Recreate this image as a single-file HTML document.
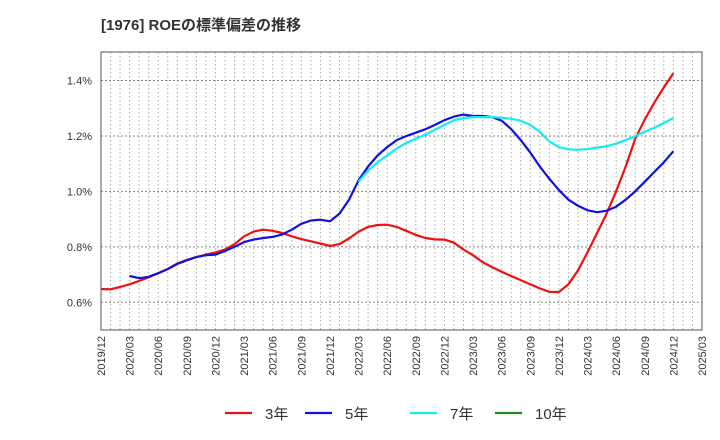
<!DOCTYPE html>
<html><head><meta charset="utf-8"><style>
body{margin:0;background:#fff;font-family:"Liberation Sans","Noto Sans CJK JP",sans-serif;}
svg{display:block}
</style></head><body>
<svg id="chart" width="720" height="440" xmlns="http://www.w3.org/2000/svg">
<text x="101" y="30" font-size="15" font-weight="bold" fill="#333" font-family="Liberation Sans, Noto Sans CJK JP, sans-serif">[1976]  ROEの標準偏差の推移</text>
<g id="grid"></g><g id="axes"></g><g id="series"></g><g id="legend"></g>
</svg>
<script>
const xLabels=["2019/12","2020/03","2020/06","2020/09","2020/12","2021/03","2021/06","2021/09","2021/12","2022/03","2022/06","2022/09","2022/12","2023/03","2023/06","2023/09","2023/12","2024/03","2024/06","2024/09","2024/12","2025/03"];
const yTicks=[0.6,0.8,1.0,1.2,1.4];
const s3=[0.648,0.647,0.655,0.665,0.677,0.69,0.705,0.72,0.74,0.753,0.763,0.772,0.78,0.79,0.81,0.838,0.855,0.862,0.858,0.85,0.838,0.828,0.82,0.812,0.803,0.81,0.83,0.855,0.872,0.879,0.88,0.872,0.858,0.843,0.832,0.827,0.826,0.815,0.79,0.77,0.745,0.727,0.71,0.695,0.68,0.665,0.65,0.638,0.637,0.665,0.715,0.78,0.85,0.92,1.0,1.09,1.19,1.26,1.32,1.375,1.427];
const s5=[null,null,null,0.695,0.687,0.692,0.705,0.72,0.738,0.752,0.763,0.77,0.772,0.785,0.8,0.817,0.826,0.832,0.836,0.845,0.862,0.883,0.895,0.898,0.892,0.92,0.97,1.04,1.09,1.13,1.16,1.185,1.2,1.212,1.224,1.24,1.257,1.27,1.277,1.272,1.272,1.268,1.255,1.225,1.185,1.14,1.09,1.045,1.005,0.97,0.948,0.932,0.925,0.93,0.945,0.97,1.0,1.035,1.07,1.105,1.145];
const s7=[null,null,null,null,null,null,null,null,null,null,null,null,null,null,null,null,null,null,null,null,null,null,null,null,null,null,null,1.035,1.075,1.105,1.13,1.155,1.175,1.19,1.205,1.222,1.24,1.257,1.265,1.268,1.268,1.268,1.266,1.262,1.255,1.24,1.215,1.18,1.16,1.152,1.15,1.153,1.158,1.163,1.172,1.185,1.2,1.215,1.23,1.247,1.265];
const s10=[];
const NS="http://www.w3.org/2000/svg";
const L=101,R=702,T=52,B=330;
const nMonths=(xLabels.length-1)*3;
const xs=i=>L+(R-L)*i/nMonths;
const ys=v=>B-(v-0.5)/(1.503-0.5)*(B-T);
function mk(tag,attrs,parent){const e=document.createElementNS(NS,tag);for(const k in attrs)e.setAttribute(k,attrs[k]);parent.appendChild(e);return e;}
const grid=document.getElementById('grid'),axes=document.getElementById('axes'),series=document.getElementById('series'),legend=document.getElementById('legend');
for(let i=1;i<nMonths;i++){const g=mk('line',{x1:xs(i),x2:xs(i),y1:T,y2:B,stroke:'#aaa','stroke-dasharray':'1.5,2.5','stroke-width':1},grid);

}
yTicks.forEach(v=>{const g=mk('line',{x1:L,x2:R,y1:ys(v),y2:ys(v),stroke:'#888','stroke-dasharray':'2,2','stroke-width':1},grid);


const t=mk('text',{x:92,y:ys(v)+4,'text-anchor':'end','font-size':11,fill:'#333'},axes);t.textContent=v.toFixed(1)+'%';

});
const frame=mk('rect',{x:L,y:T,width:R-L,height:B-T,fill:'none',stroke:'#555','stroke-width':1},axes);


xLabels.forEach((lab,i)=>{const x=xs(i*3);const t=mk('text',{transform:`translate(${x+4},${B+6}) rotate(-90)`,'text-anchor':'end','font-size':11,fill:'#333'},axes);t.textContent=lab;

});
function line(data,color,name){let d='';let pen=false;data.forEach((v,i)=>{if(v==null){pen=false;return;}d+=(pen?'L':'M')+xs(i).toFixed(1)+','+ys(v).toFixed(1);pen=true;});
if(!d)return;const p=mk('path',{d:d,fill:'none',stroke:color,'stroke-width':2.2,'stroke-linejoin':'round'},series);

}
line(s3,'#ee1111','series-3y');line(s5,'#1111dd','series-5y');line(s7,'#11eeee','series-7y');line(s10,'#228822','series-10y');
const leg=[['3年','#ee1111',225],['5年','#1111dd',305],['7年','#11eeee',410],['10年','#228822',495]];
leg.forEach(([lab,c,x])=>{const g=mk('g',{},legend);


mk('line',{x1:x,x2:x+27,y1:413,y2:413,stroke:c,'stroke-width':2.2},g);
const t=mk('text',{x:x+40,y:419,'font-size':15,fill:'#333'},g);t.textContent=lab;});
</script>
</body></html>
